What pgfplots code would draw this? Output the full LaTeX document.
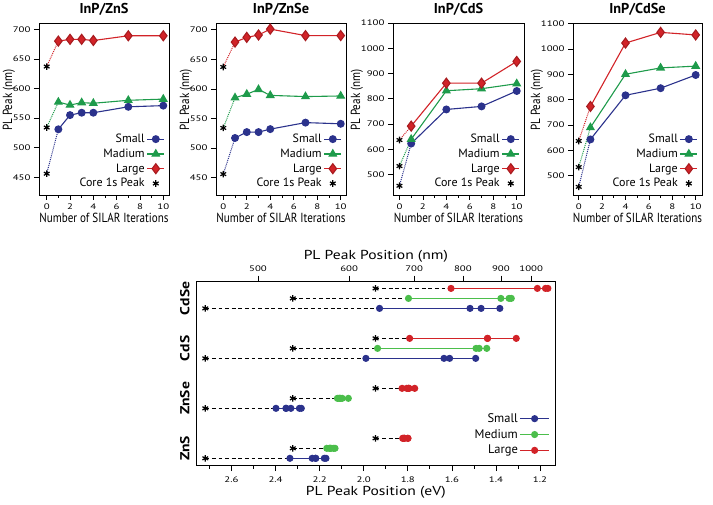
\documentclass[border=0pt]{standalone}
\usepackage{pgfplots}
\pgfplotsset{compat=1.18}
\usepackage{fontspec}
\setmainfont{PT Sans}
\newfontfamily\condfont{PT Sans}[FakeStretch=0.84]
\newfontfamily\widefont{PT Sans}[FakeStretch=1.2]
\newfontfamily\tickfont{PT Sans}[FakeStretch=1.35]
\definecolor{cS}{RGB}{43,50,140}
\definecolor{cM}{RGB}{30,155,75}
\definecolor{cMb}{RGB}{75,190,75}
\definecolor{cL}{RGB}{210,35,40}
\pgfplotsset{
 toppanel/.style={
   scale only axis, anchor=south west, height=172pt,
   xtick={0,2,4,6,8,10}, minor xtick={1,3,5,7,9},
   tick align=outside, xtick pos=bottom, ytick pos=left,
   major tick length=5pt, minor tick length=3pt,
   tick style={line width=0.7pt, black},
   axis line style={line width=0.8pt},
   tick label style={font=\tickfont\fontsize{8}{9}\selectfont},
   /pgf/number format/1000 sep={},
   xlabel={Number of SILAR Iterations}, ylabel={PL Peak (nm)},
   xlabel style={font=\condfont\fontsize{13.2}{15}\selectfont, yshift=3pt},
   ylabel style={font=\condfont\fontsize{13.2}{15}\selectfont, at={(ticklabel cs:0.552)}, yshift=-9pt},
   title style={font=\bfseries\fontsize{14.3}{16}\selectfont, yshift=-2pt},
   legend style={draw=none, fill=none, at={(0.97,0.025)}, anchor=south east,
     font=\fontsize{12}{13}\selectfont, row sep=0.8pt, inner sep=0pt},
   legend cell align=right, legend plot pos=right,
   /pgf/number format/assume math mode=true,
   clip=false,
 },
 dotS/.style={cS, densely dotted, line width=1pt, forget plot},
 dotM/.style={cM, densely dotted, line width=1pt, forget plot},
 dotL/.style={cL, densely dotted, line width=1pt, forget plot},
 linS/.style={cS, line width=1.1pt, mark=*, mark size=3.4pt, mark options={solid, fill=cS}, forget plot},
 linM/.style={cM, line width=1.1pt, mark=triangle*, mark size=4.2pt, mark options={solid, fill=cM}, forget plot},
 linL/.style={cL, line width=1.1pt, mark=diamond*, mark size=5pt, mark options={solid, fill=cL, draw=cL!80!black}, forget plot},
 core/.style={black, only marks, mark=asterisk, mark size=3.3pt, line width=1.2pt, forget plot},
 toplegend/.code={
   \addlegendimage{cS, line width=1.1pt, mark=*, mark size=3.4pt, mark options={fill=cS}}\addlegendentry{Small}
   \addlegendimage{cM, line width=1.1pt, mark=triangle*, mark size=4.2pt, mark options={fill=cM}}\addlegendentry{Madium}
   \addlegendimage{cL, line width=1.1pt, mark=diamond*, mark size=5pt, mark options={fill=cL, draw=cL!80!black}}\addlegendentry{Large}
   \addlegendimage{black, only marks, mark=asterisk, mark size=3.3pt, line width=1.2pt}\addlegendentry{Core 1s Peak}
 },
 dsh/.style={black, dash pattern=on 3.8pt off 2.8pt, line width=1pt, forget plot},
 bS/.style={cS, line width=1.1pt, mark=*, mark size=3pt, mark options={fill=cS}, forget plot},
 bM/.style={cMb, line width=1.1pt, mark=*, mark size=3pt, mark options={fill=cMb}, forget plot},
 bL/.style={cL, line width=1.1pt, mark=*, mark size=3pt, mark options={fill=cL}, forget plot},
}
\begin{document}
\begin{tikzpicture}[x=1pt,y=1pt]
\path[use as bounding box] (0,0) rectangle (713,504);
% ---------- Panel 1: InP/ZnS
\begin{axis}[toppanel, at={(39pt,309pt)}, width=130pt,
  xmin=-0.66, xmax=10.49, ymin=420, ymax=710.6,
  ytick={450,500,550,600,650,700}, title={InP/ZnS}]
\addplot[dotS] coordinates {(0,456) (1,531)};
\addplot[dotM] coordinates {(0,534) (1,577)};
\addplot[dotL] coordinates {(0,637) (1,680)};
\addplot[linS] coordinates {(1,531)(2,555)(3,559)(4,559)(7,569)(10,571)};
\addplot[linM] coordinates {(1,577)(2,572)(3,576)(4,575)(7,580)(10,582)};
\addplot[linL] coordinates {(1,680)(2,683)(3,683)(4,681)(7,689)(10,689)};
\addplot[core] coordinates {(0,456)(0,534)(0,637)};
\pgfplotsset{toplegend}
\end{axis}
% ---------- Panel 2: InP/ZnSe
\begin{axis}[toppanel, at={(216pt,309pt)}, width=130pt,
  xmin=-0.62, xmax=10.45, ymin=420.7, ymax=711.3,
  ytick={450,500,550,600,650,700}, title={InP/ZnSe}]
\addplot[dotS] coordinates {(0,456) (1,517)};
\addplot[dotM] coordinates {(0,534) (1,585)};
\addplot[dotL] coordinates {(0,637) (1,679)};
\addplot[linS] coordinates {(1,517)(2,527)(3,527)(4,532)(7,543)(10,541)};
\addplot[linM] coordinates {(1,585)(2,591)(3,599)(4,589)(7,587)(10,588)};
\addplot[linL] coordinates {(1,679)(2,687)(3,691)(4,701)(7,690)(10,690)};
\addplot[core] coordinates {(0,456)(0,534)(0,637)};
\pgfplotsset{toplegend}
\end{axis}
% ---------- Panel 3: InP/CdS
\begin{axis}[toppanel, at={(393pt,309pt)}, width=131pt,
  xmin=-0.55, xmax=10.62, ymin=419.5, ymax=1100,
  ytick={500,600,700,800,900,1000,1100}, title={InP/CdS}]
\addplot[dotS] coordinates {(0,456) (1,623)};
\addplot[dotM] coordinates {(0,534) (1,640)};
\addplot[dotL] coordinates {(0,637) (1,692)};
\addplot[linS] coordinates {(1,623)(4,758)(7,770)(10,831)};
\addplot[linM] coordinates {(1,640)(4,832)(7,840)(10,860)};
\addplot[linL] coordinates {(1,692)(4,862)(7,862)(10,948)};
\addplot[core] coordinates {(0,456)(0,534)(0,637)};
\pgfplotsset{toplegend}
\end{axis}
% ---------- Panel 4: InP/CdSe
\begin{axis}[toppanel, at={(573pt,309pt)}, width=129pt,
  xmin=-0.49, xmax=10.54, ymin=424, ymax=1102,
  ytick={500,600,700,800,900,1000,1100}, title={InP/CdSe}]
\addplot[dotS] coordinates {(0,456) (1,643)};
\addplot[dotM] coordinates {(0,534) (1,690)};
\addplot[dotL] coordinates {(0,637) (1,773)};
\addplot[linS] coordinates {(1,643)(4,817)(7,845)(10,897)};
\addplot[linM] coordinates {(1,690)(4,900)(7,925)(10,932)};
\addplot[linL] coordinates {(1,773)(4,1023)(7,1065)(10,1055)};
\addplot[core] coordinates {(0,456)(0,534)(0,637)};
\pgfplotsset{toplegend}
\end{axis}
% ---------- Bottom panel: top nm axis
\begin{axis}[scale only axis, anchor=south west, at={(196.7pt,39pt)},
  width=358.3pt, height=183.3pt, x dir=reverse,
  xmin=1.132, xmax=2.758, ymin=-0.67, ymax=17.67,
  axis x line*=top, axis y line=none,
  tick align=outside, major tick length=6pt,
  tick style={line width=0.7pt, black},
  axis line style={line width=0.8pt},
  xtick={2.47968,2.06640,1.77120,1.54980,1.37760,1.23984},
  xticklabels={500,600,700,800,900,1000},
  tick label style={font=\tickfont\fontsize{8}{9}\selectfont},
  xticklabel style={yshift=1pt},
  xlabel={PL Peak Position (nm)},
  xlabel style={font=\widefont\fontsize{13}{15}\selectfont, yshift=-4pt}]
\addplot[draw=none] coordinates {(2,0)};
\end{axis}
% ---------- Bottom panel: main
\begin{axis}[scale only axis, anchor=south west, at={(196.7pt,39pt)},
  width=358.3pt, height=183.3pt, x dir=reverse,
  xmin=1.132, xmax=2.758, ymin=-0.67, ymax=17.67,
  tick align=outside, xtick pos=bottom, ytick pos=left,
  major tick length=6pt, minor tick length=3.5pt,
  tick style={line width=0.7pt, black},
  y tick style={draw=none},
  axis line style={line width=0.8pt},
  xtick={1.2,1.4,1.6,1.8,2.0,2.2,2.4,2.6},
  minor xtick={1.3,1.5,1.7,1.9,2.1,2.3,2.5,2.7},
  xticklabel style={yshift=-2pt, /pgf/number format/fixed, /pgf/number format/fixed zerofill, /pgf/number format/precision=1},
  ytick={1,6,11,16}, yticklabels={ZnS,ZnSe,CdS,CdSe},
  tick label style={font=\tickfont\fontsize{8}{9}\selectfont},
  yticklabel style={rotate=90, anchor=south, font=\widefont\bfseries\fontsize{13}{15}\selectfont, inner sep=1pt},
  /pgf/number format/assume math mode=true,
  xlabel={PL Peak Position (eV)},
  xlabel style={font=\widefont\fontsize{13}{15}\selectfont, yshift=3pt},
  legend style={draw=none, fill=none, at={(0.985,0.04)}, anchor=south east,
     font=\fontsize{12.5}{13}\selectfont, row sep=1.5pt, inner sep=0pt},
  legend cell align=right, legend plot pos=right,
  legend image code/.code={\draw[#1] (0cm,0cm) -- (1.0cm,0cm); \draw[#1, only marks] plot coordinates {(0.5cm,0cm)};},
  clip=false]
% dashed core connectors
\addplot[dsh] coordinates {(2.7189,0)(2.3349,0)};
\addplot[dsh] coordinates {(2.3218,1)(2.1676,1)};
\addplot[dsh] coordinates {(1.9464,2)(1.8233,2)};
\addplot[dsh] coordinates {(2.7189,5)(2.3982,5)};
\addplot[dsh] coordinates {(2.3218,6)(2.1194,6)};
\addplot[dsh] coordinates {(1.9464,7)(1.8260,7)};
\addplot[dsh] coordinates {(2.7189,10)(1.9901,10)};
\addplot[dsh] coordinates {(2.3218,11)(1.9373,11)};
\addplot[dsh] coordinates {(1.9464,12)(1.7917,12)};
\addplot[dsh] coordinates {(2.7189,15)(1.9282,15)};
\addplot[dsh] coordinates {(2.3218,16)(1.7969,16)};
\addplot[dsh] coordinates {(1.9464,17)(1.6039,17)};
% core stars
\addplot[core] coordinates {(2.7189,0)(2.3218,1)(1.9464,2)(2.7189,5)(2.3218,6)(1.9464,7)(2.7189,10)(2.3218,11)(1.9464,12)(2.7189,15)(2.3218,16)(1.9464,17)};
% ZnS
\addplot[bS] coordinates {(2.3349,0)(2.2340,0)(2.2180,0)(2.2180,0)(2.1790,0)(2.1713,0)};
\addplot[bM] coordinates {(2.1676,1)(2.1488,1)(2.1525,1)(2.1562,1)(2.1376,1)(2.1303,1)};
\addplot[bL] coordinates {(1.8233,2)(1.8153,2)(1.8153,2)(1.8206,2)(1.7995,2)(1.7995,2)};
% ZnSe
\addplot[bS] coordinates {(2.3982,5)(2.3526,5)(2.3526,5)(2.3305,5)(2.2918,5)(2.2833,5)};
\addplot[bM] coordinates {(2.1194,6)(2.1122,6)(2.1086,6)(2.1050,6)(2.0979,6)(2.0698,6)};
\addplot[bL] coordinates {(1.8260,7)(1.8047,7)(1.7969,7)(1.7969,7)(1.7943,7)(1.7687,7)};
% CdS
\addplot[bS] coordinates {(1.9901,10)(1.6357,10)(1.6102,10)(1.4920,10)};
\addplot[bM] coordinates {(1.9373,11)(1.4902,11)(1.4760,11)(1.4417,11)};
\addplot[bL] coordinates {(1.7917,12)(1.4383,12)(1.4383,12)(1.3079,12)};
% CdSe
\addplot[bS] coordinates {(1.9282,15)(1.5175,15)(1.4673,15)(1.3822,15)};
\addplot[bM] coordinates {(1.7969,16)(1.3776,16)(1.3404,16)(1.3303,16)};
\addplot[bL] coordinates {(1.6039,17)(1.2120,17)(1.1752,17)(1.1642,17)};
\addlegendimage{cS, line width=1.1pt, mark=*, mark size=3pt, mark options={fill=cS}}\addlegendentry{Small}
\addlegendimage{cMb, line width=1.1pt, mark=*, mark size=3pt, mark options={fill=cMb}}\addlegendentry{Medium}
\addlegendimage{cL, line width=1.1pt, mark=*, mark size=3pt, mark options={fill=cL}}\addlegendentry{Large}
\end{axis}
\end{tikzpicture}
\end{document}
